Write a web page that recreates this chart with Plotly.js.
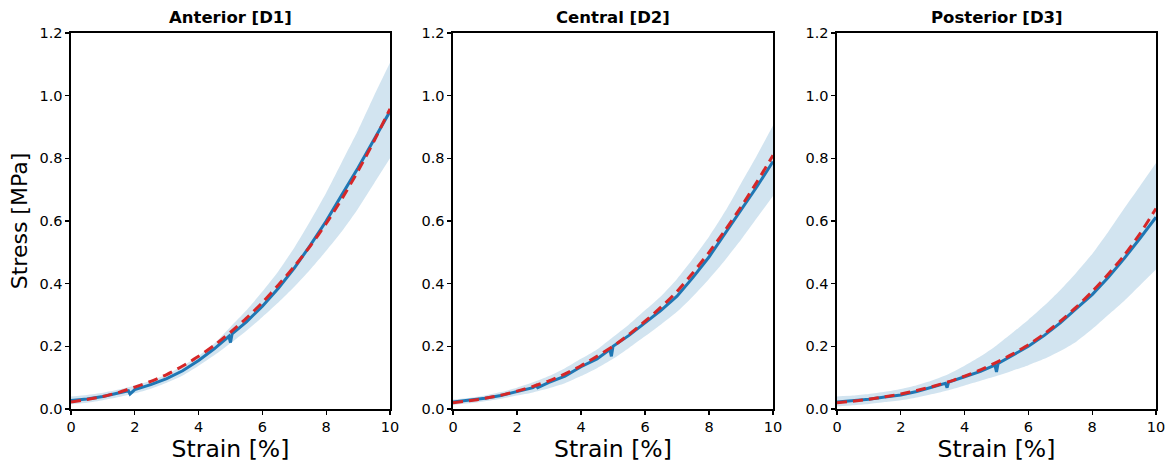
<!DOCTYPE html>
<html>
<head>
<meta charset="utf-8">
<script src="https://cdn.plot.ly/plotly-3.0.1.min.js"></script>
<style>html,body{margin:0;padding:0;background:#fff;}#chart{width:1168px;height:464px;}</style>
</head>
<body>
<div id="chart"></div>
<script>
// Panel titles
const panelTitles = ["Anterior [D1]", "Central [D2]", "Posterior [D3]"];
const xTitle = "Strain [%]";
const yTitle = "Stress [MPa]";
const yTickVals = [0.0, 0.2, 0.4, 0.6, 0.8, 1.0, 1.2];
const yTickText = ["0.0", "0.2", "0.4", "0.6", "0.8", "1.0", "1.2"];
const xTickVals = [0, 2, 4, 6, 8, 10];

// Common strain grid for fits and bands
const strain = [0,0.5,1,1.5,2,2.5,3,3.5,4,4.5,5,5.5,6,6.5,7,7.5,8,8.5,9,9.5,10];

// Anterior [D1]
const d1MeanX = [0,0.5,1,1.5,1.8,1.85,2,2.5,3,3.5,4,4.5,4.95,5.0,5.05,5.5,6,6.5,7,7.5,8,8.5,9,9.5,10];
const d1Mean  = [0.027,0.032,0.04,0.05,0.058,0.048,0.062,0.078,0.097,0.122,0.155,0.193,0.232,0.212,0.24,0.278,0.328,0.385,0.45,0.522,0.6,0.685,0.77,0.86,0.95];
const d1Fit   = [0.022,0.03,0.04,0.053,0.07,0.088,0.11,0.137,0.168,0.204,0.245,0.29,0.34,0.396,0.455,0.52,0.592,0.672,0.76,0.855,0.958];
const d1Upper = [0.04,0.045,0.052,0.062,0.075,0.09,0.11,0.137,0.17,0.21,0.262,0.315,0.375,0.44,0.515,0.6,0.69,0.79,0.89,1.0,1.105];
const d1Lower = [0.015,0.02,0.028,0.038,0.05,0.065,0.084,0.107,0.138,0.172,0.21,0.25,0.294,0.34,0.39,0.445,0.505,0.568,0.64,0.72,0.8];

// Central [D2]
const d2MeanX = [0,0.5,1,1.5,2,2.5,2.6,2.65,3,3.5,4,4.5,4.9,4.95,5.0,5.5,6,6.5,7,7.5,8,8.5,9,9.5,10];
const d2Mean  = [0.022,0.027,0.034,0.043,0.055,0.068,0.075,0.068,0.085,0.105,0.135,0.16,0.19,0.168,0.2,0.235,0.275,0.315,0.36,0.42,0.485,0.56,0.635,0.71,0.79];
const d2Fit   = [0.02,0.026,0.034,0.044,0.057,0.072,0.09,0.112,0.138,0.168,0.2,0.238,0.28,0.325,0.375,0.435,0.5,0.57,0.645,0.725,0.81];
const d2Upper = [0.03,0.035,0.043,0.054,0.068,0.085,0.105,0.13,0.16,0.19,0.23,0.27,0.315,0.36,0.415,0.48,0.55,0.63,0.72,0.81,0.905];
const d2Lower = [0.013,0.018,0.025,0.033,0.043,0.053,0.066,0.082,0.105,0.13,0.16,0.195,0.232,0.27,0.31,0.36,0.415,0.475,0.54,0.61,0.68];

// Posterior [D3]
const d3MeanX = [0,0.5,1,1.5,2,2.5,3,3.4,3.45,3.5,4,4.5,4.95,5.0,5.05,5.5,6,6.5,7,7.5,8,8.5,9,9.5,10];
const d3Mean  = [0.022,0.026,0.031,0.038,0.045,0.056,0.07,0.082,0.068,0.086,0.103,0.12,0.14,0.118,0.145,0.17,0.2,0.235,0.275,0.32,0.365,0.42,0.48,0.545,0.612];
const d3Fit   = [0.02,0.025,0.031,0.039,0.048,0.059,0.072,0.087,0.105,0.125,0.149,0.175,0.205,0.24,0.28,0.325,0.375,0.43,0.49,0.56,0.64];
const d3Upper = [0.04,0.043,0.048,0.055,0.064,0.076,0.092,0.112,0.138,0.168,0.203,0.243,0.285,0.33,0.38,0.435,0.495,0.565,0.64,0.712,0.785];
const d3Lower = [0.008,0.012,0.016,0.022,0.028,0.037,0.048,0.06,0.075,0.09,0.105,0.122,0.14,0.16,0.185,0.215,0.255,0.3,0.345,0.395,0.445];

const panels = [
  {mx: d1MeanX, m: d1Mean, f: d1Fit, u: d1Upper, l: d1Lower},
  {mx: d2MeanX, m: d2Mean, f: d2Fit, u: d2Upper, l: d2Lower},
  {mx: d3MeanX, m: d3Mean, f: d3Fit, u: d3Upper, l: d3Lower}
];

const W = 1168, H = 464;
const xDomainsPx = [[71, 390], [453, 773], [837, 1156]];
const yDomain = [1 - 409 / H, 1 - 33 / H];

const BLUE = "#1f77b4", RED = "#d62728", BAND = "rgba(31,119,180,0.2)";
const FONT = "DejaVu Sans, sans-serif";

const traces = [];
panels.forEach((p, i) => {
  const xa = i === 0 ? "x" : "x" + (i + 1);
  const ya = i === 0 ? "y" : "y" + (i + 1);
  traces.push({x: strain, y: p.l, xaxis: xa, yaxis: ya, mode: "lines", line: {width: 0, color: BAND, shape: "spline", smoothing: 0.6}, hoverinfo: "skip", showlegend: false});
  traces.push({x: strain, y: p.u, xaxis: xa, yaxis: ya, mode: "lines", line: {width: 0, color: BAND, shape: "spline", smoothing: 0.6}, fill: "tonexty", fillcolor: BAND, hoverinfo: "skip", showlegend: false});
  traces.push({x: p.mx, y: p.m, xaxis: xa, yaxis: ya, mode: "lines", line: {width: 3, color: BLUE}, showlegend: false});
  traces.push({x: strain, y: p.f, xaxis: xa, yaxis: ya, mode: "lines", line: {width: 3, color: RED, dash: "10px,6px", shape: "spline", smoothing: 0.6}, showlegend: false});
});

const layout = {
  width: W, height: H,
  margin: {l: 0, r: 0, t: 0, b: 0},
  paper_bgcolor: "#fff", plot_bgcolor: "#fff",
  font: {family: FONT, size: 14, color: "#000"},
  showlegend: false,
  annotations: []
};

xDomainsPx.forEach((d, i) => {
  const sx = i === 0 ? "" : String(i + 1);
  const xk = "xaxis" + sx, yk = "yaxis" + sx;
  layout[xk] = {
    domain: [d[0] / W, d[1] / W], anchor: "y" + sx,
    range: [0, 10], tickvals: xTickVals, ticks: "outside", ticklen: 4, tickwidth: 1.2, tickcolor: "#000",
    showline: true, linecolor: "#000", linewidth: 1.6, mirror: true, showgrid: false, zeroline: false,
    tickfont: {family: FONT, size: 14.5, color: "#000"},
    title: {text: xTitle, font: {family: FONT, size: 23.5, color: "#000"}, standoff: 2}
  };
  layout[yk] = {
    domain: yDomain, anchor: "x" + sx,
    range: [0, 1.2], tickvals: yTickVals, ticktext: yTickText, ticks: "outside", ticklen: 4, tickwidth: 1.2, tickcolor: "#000",
    showline: true, linecolor: "#000", linewidth: 1.6, mirror: true, showgrid: false, zeroline: false,
    tickfont: {family: FONT, size: 14.5, color: "#000"}
  };
  if (i === 0) {
    layout[yk].title = {text: yTitle, font: {family: FONT, size: 22, color: "#000"}, standoff: 6};
  }
  layout.annotations.push({
    text: "<b>" + panelTitles[i] + "</b>", xref: "paper", yref: "paper",
    x: (d[0] + d[1]) / 2 / W, y: 1 - 17 / H, xanchor: "center", yanchor: "middle",
    showarrow: false, font: {family: FONT, size: 16.5, color: "#000"}
  });
});

Plotly.newPlot("chart", traces, layout, {displayModeBar: false, staticPlot: true});
</script>
</body>
</html>
